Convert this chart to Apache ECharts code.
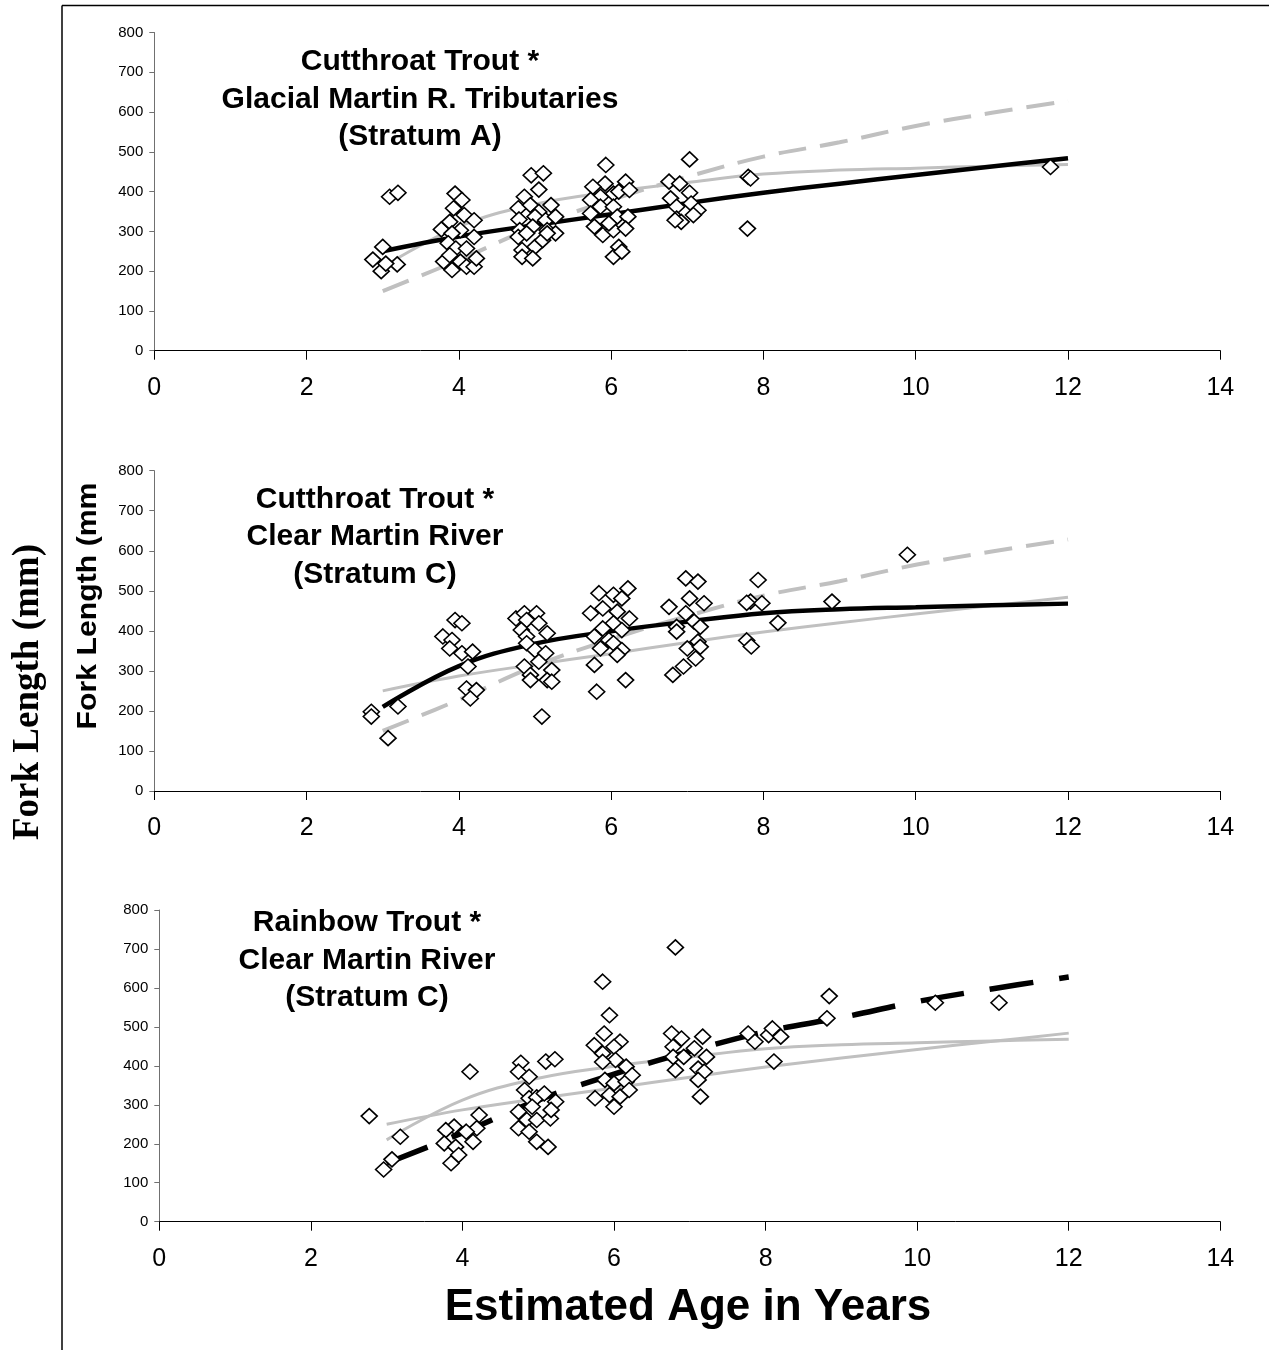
<!DOCTYPE html>
<html>
<head>
<meta charset="utf-8">
<script src="https://cdn.jsdelivr.net/npm/echarts@6/dist/echarts.min.js"></script>
<style>
html,body{margin:0;padding:0;background:#fff;}
#chart{width:1269px;height:1350px;}
</style>
</head>
<body>
<div id="chart"></div>
<script>
// ---- Data ----
const xTicks = [0, 2, 4, 6, 8, 10, 12, 14];
const yTicks = [0, 100, 200, 300, 400, 500, 600, 700, 800];
const curveAges = [3, 4, 5, 6, 7, 8, 9, 10, 11, 12];
// fitted growth curves (fork length, mm) at the ages above
const curveGlacialCutthroat = [250, 287, 316, 343, 371, 397, 420, 442, 463, 484];
const curveClearCutthroat   = [210, 312, 368, 399, 423, 444, 454, 459, 464, 468];
const curveClearRainbow     = [150, 228, 312, 379, 437, 488, 524, 565, 598, 628];

const panelTitles = [
  "Cutthroat Trout *\nGlacial Martin R. Tributaries\n(Stratum A)",
  "Cutthroat Trout *\nClear Martin River\n(Stratum C)",
  "Rainbow Trout *\nClear Martin River\n(Stratum C)"
];

// observed fish [age, fork length]
const glacialCutthroat = [
  [3.09,387],[3.2,397],[3.0,261],[2.87,229],[2.98,200],[3.19,217],[3.04,219],
  [3.95,395],[4.04,379],[3.93,358],[4.07,341],[4.2,328],[3.77,305],[3.88,324],[4.02,303],[4.2,286],[3.91,295],[3.86,270],[3.96,257],[4.1,257],[3.8,224],[3.91,203],[4.02,224],[4.1,211],[4.2,211],[4.23,232],[3.88,240],
  [4.95,441],[5.11,446],[5.05,405],[4.86,387],[4.78,358],[4.94,366],[5.05,349],[5.21,366],[4.79,330],[5.0,337],[5.14,328],[5.27,337],[4.8,303],[4.97,312],[5.16,303],[5.27,295],[4.78,286],[4.83,253],[5.0,261],[5.1,278],[4.83,236],[4.97,232],[5.16,295],[4.89,295],
  [5.93,467],[5.92,420],[5.76,412],[5.86,387],[6.03,395],[6.1,400],[6.19,425],[6.24,404],[5.73,379],[5.86,362],[6.03,362],[5.73,345],[6.08,337],[6.22,337],[5.78,312],[5.89,291],[6.03,303],[6.19,307],[6.1,261],[6.03,236],[6.14,249],[5.97,320],
  [6.76,425],[6.9,420],[7.03,481],[7.03,397],[6.78,383],[6.86,362],[7.05,370],[7.14,353],[6.86,332],[6.92,324],[7.08,341],[6.84,328],
  [7.8,437],[7.83,433],[7.79,307],[11.77,462]
];
const clearCutthroat = [
  [2.85,198],[2.85,186],[3.2,211],[3.07,132],
  [3.95,427],[4.04,419],[3.79,386],[3.91,377],[3.88,356],[4.04,344],[4.18,348],[4.12,311],[4.1,256],[4.23,252],[4.15,231],
  [4.75,431],[4.86,444],[5.02,444],[4.89,427],[5.05,419],[4.82,402],[4.89,386],[5.16,394],[4.89,369],[5.0,352],[5.14,344],[5.05,323],[4.86,311],[5.22,302],[4.94,290],[5.16,277],[5.22,273],[4.94,277],[5.09,186],
  [5.84,494],[6.03,490],[6.22,506],[6.14,481],[5.73,444],[5.89,456],[6.08,448],[6.24,431],[6.03,419],[5.89,406],[6.14,402],[5.78,386],[5.97,377],[6.03,369],[5.86,356],[6.14,352],[6.08,340],[5.78,315],[6.19,277],[5.81,248],
  [6.98,531],[7.14,523],[6.76,460],[7.03,481],[7.22,469],[6.98,444],[7.09,423],[6.86,410],[6.86,398],[7.17,410],[7.14,373],[7.0,356],[6.81,290],[6.95,311],[7.11,331],[7.17,360],
  [9.89,590],[8.9,473],[8.19,420],[7.93,527],[7.83,473],[7.98,469],[7.78,470],[7.78,376],[7.84,361]
];
const clearRainbow = [
  [2.77,271],[3.18,218],[2.96,134],[3.07,160],
  [4.1,385],[3.89,244],[3.78,235],[3.76,201],[3.91,192],[3.95,171],[3.85,150],[4.14,205],[4.19,240],[4.22,274],[4.05,231],
  [4.77,408],[4.74,385],[4.88,372],[5.1,411],[5.22,417],[4.82,338],[4.88,317],[4.98,319],[5.08,329],[5.23,308],[4.74,282],[4.85,261],[4.98,261],[5.16,265],[4.74,240],[4.88,231],[4.98,205],[5.13,192],[4.92,295],[5.17,287],
  [5.85,616],[5.94,530],[5.87,483],[5.74,453],[6.08,462],[5.85,432],[6.0,449],[6.16,398],[6.02,415],[5.85,410],[5.88,364],[6.0,355],[6.16,359],[6.24,376],[5.75,317],[5.94,325],[6.08,321],[6.0,295],[6.2,338],
  [6.81,704],[6.76,483],[6.89,470],[6.78,449],[6.78,423],[6.81,389],[6.92,423],[7.17,475],[7.06,445],[7.22,423],[7.11,393],[7.19,385],[7.14,321],[7.11,364],
  [7.77,483],[7.86,462],[8.04,479],[8.09,496],[8.2,475],[8.11,411],[8.81,522],[8.84,579],[10.24,562],[11.08,562]
];

// ---- Build ----
const curve = arr => curveAges.map((a, i) => [a, arr[i]]);
const FONT = '"Liberation Sans", Arial, sans-serif';

const grids = [
  {left: 154.3, top: 32.5, width: 1066, height: 318.2},
  {left: 154.3, top: 470.7, width: 1066, height: 320.3},
  {left: 159.3, top: 910, width: 1061, height: 311.7}
];

const xAxes = grids.map((g, i) => ({
  type: 'value', gridIndex: i, min: xTicks[0], max: xTicks[xTicks.length - 1], interval: 2,
  axisLine: {show: true, onZero: false, lineStyle: {color: '#000', width: 1}},
  axisTick: {show: true, inside: false, length: 9, lineStyle: {color: '#000', width: 1}},
  axisLabel: {show: true, margin: 25, color: '#000', fontSize: 25, fontFamily: FONT},
  splitLine: {show: false}
}));
const yAxes = grids.map((g, i) => ({
  type: 'value', gridIndex: i, min: yTicks[0], max: yTicks[yTicks.length - 1], interval: 100,
  axisLine: {show: true, onZero: false, lineStyle: {color: '#707070', width: 1}},
  axisTick: {show: true, inside: false, length: 5, lineStyle: {color: '#707070', width: 1}},
  axisLabel: {show: true, margin: 11, color: '#000', fontSize: 15, fontFamily: FONT},
  splitLine: {show: false}
}));

function lineSeries(idx, data, color, width, type, z) {
  return {
    type: 'line', xAxisIndex: idx, yAxisIndex: idx, data: data,
    showSymbol: false, symbol: 'none', smooth: 0.4, z: z,
    lineStyle: {color: color, width: width, type: type, cap: 'butt'},
    silent: true
  };
}
function scatterSeries(idx, data) {
  return {
    type: 'scatter', xAxisIndex: idx, yAxisIndex: idx, data: data,
    symbol: 'diamond', symbolSize: [16, 15], z: 5,
    itemStyle: {color: '#fff', borderColor: '#000', borderWidth: 1.6, opacity: 1},
    silent: true
  };
}
const GRAY = '#c0c0c0';
const grayDash = [28, 14];
const series = [
  // panel 1
  lineSeries(0, curve(curveClearRainbow), GRAY, 4, grayDash, 2),
  lineSeries(0, curve(curveClearCutthroat), GRAY, 3, 'solid', 2),
  lineSeries(0, curve(curveGlacialCutthroat), '#000', 4.5, 'solid', 3),
  scatterSeries(0, glacialCutthroat),
  // panel 2
  lineSeries(1, curve(curveClearRainbow), GRAY, 4, grayDash, 2),
  lineSeries(1, curve(curveGlacialCutthroat), GRAY, 3, 'solid', 2),
  lineSeries(1, curve(curveClearCutthroat), '#000', 4.5, 'solid', 3),
  scatterSeries(1, clearCutthroat),
  // panel 3
  lineSeries(2, curve(curveGlacialCutthroat), GRAY, 3, 'solid', 2),
  lineSeries(2, curve(curveClearCutthroat), GRAY, 3, 'solid', 2),
  lineSeries(2, curve(curveClearRainbow), '#000', 5.5, [44, 26], 3),
  scatterSeries(2, clearRainbow)
];

const titlePos = [[420, 99.5], [375, 537], [367, 960.5]];
const graphic = [
  {type: 'line', shape: {x1: 62, y1: 5.5, x2: 1269, y2: 5.5}, style: {stroke: '#000', lineWidth: 1.5}, silent: true},
  {type: 'line', shape: {x1: 62, y1: 5.5, x2: 62, y2: 1350}, style: {stroke: '#000', lineWidth: 1.5}, silent: true},
  {type: 'text', x: 28, y: 692, rotation: Math.PI / 2, silent: true,
   style: {text: 'Fork Length (mm)', fill: '#000', align: 'center', verticalAlign: 'middle',
           font: 'bold 37px "Liberation Serif", "Times New Roman", serif'}},
  {type: 'text', x: 89, y: 606, rotation: Math.PI / 2, scaleX: 1.12, silent: true,
   style: {text: 'Fork Length (mm', fill: '#000', align: 'center', verticalAlign: 'middle',
           font: 'bold 27px ' + FONT}},
  {type: 'text', x: 688, y: 1308, silent: true,
   style: {text: 'Estimated Age in Years', fill: '#000', align: 'center', verticalAlign: 'middle',
           font: 'bold 44px ' + FONT}}
];
panelTitles.forEach((t, i) => {
  graphic.push({type: 'text', x: titlePos[i][0], y: titlePos[i][1], silent: true, z: 10,
    style: {text: t, fill: '#000', align: 'center', verticalAlign: 'middle', lineHeight: 37.5,
            font: 'bold 30px ' + FONT}});
});

const chart = echarts.init(document.getElementById('chart'), null, {renderer: 'canvas'});
chart.setOption({
  animation: false,
  backgroundColor: '#fff',
  grid: grids,
  xAxis: xAxes,
  yAxis: yAxes,
  series: series,
  graphic: graphic
});
</script>
</body>
</html>
